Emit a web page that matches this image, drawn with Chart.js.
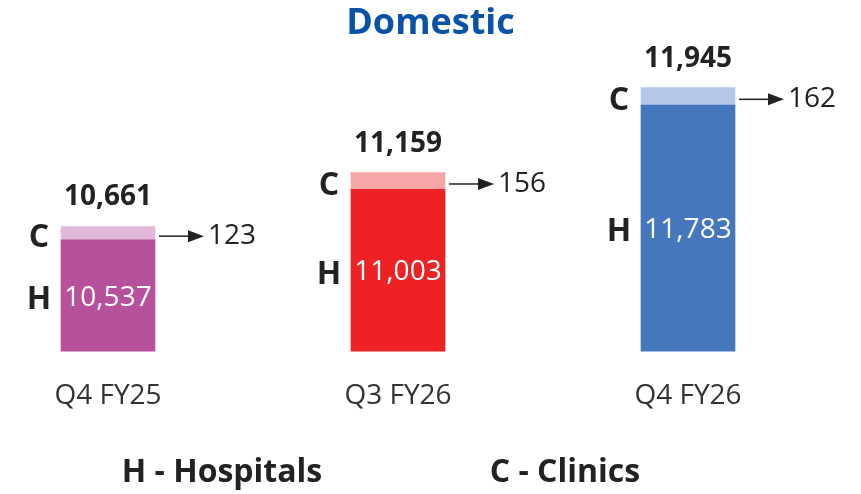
<!DOCTYPE html>
<html>
<head>
<meta charset="utf-8">
<script src="https://cdn.jsdelivr.net/npm/chart.js@4.4.1/dist/chart.umd.min.js"></script>
<style>
  body { margin: 0; background: #fff; }
  #wrap { width: 861px; height: 494px; }
</style>
</head>
<body>
<div id="wrap"><canvas id="myChart"></canvas></div>
<script>
// data
const categories = ['Q4 FY25', 'Q3 FY26', 'Q4 FY26'];
const hospitals = [10537, 11003, 11783];
const clinics = [123, 156, 162];
const totals = [10661, 11159, 11945];

const hospitalColors = ['#b7519b', '#ee2125', '#4577bd'];
const clinicColors = ['#e3b9da', '#f8a5a6', '#b2c8e6'];

const FONT = "'Open Sans', 'Noto Sans', sans-serif";
const fmt = v => v.toLocaleString('en-US');

const labelPlugin = {
  id: 'barLabels',
  afterDatasetsDraw(chart) {
    const ctx = chart.ctx;
    const area = chart.chartArea;
    const hMeta = chart.getDatasetMeta(0);
    const cMeta = chart.getDatasetMeta(1);
    ctx.save();
    ctx.textBaseline = 'middle';
    hMeta.data.forEach((hBar, i) => {
      const cBar = cMeta.data[i];
      const left = hBar.x - hBar.width / 2;
      const right = hBar.x + hBar.width / 2;
      const hMid = (hBar.y + area.bottom) / 2;
      const cMid = (cBar.y + cBar.base) / 2;

      // total on top
      ctx.fillStyle = '#222';
      ctx.textAlign = 'center';
      ctx.font = 'bold 28px ' + FONT;
      ctx.fillText(fmt(totals[i]), hBar.x, cBar.y - 29);

      // hospitals value inside bar
      ctx.fillStyle = '#fff';
      ctx.font = '28px ' + FONT;
      ctx.fillText(fmt(hospitals[i]), hBar.x, hMid + 2);

      // C / H letters
      ctx.fillStyle = '#222';
      ctx.font = 'bold 32px ' + FONT;
      ctx.fillText('C', left - 22, cMid + 5);
      ctx.fillText('H', left - 22, hMid + 4);

      // arrow to clinics value
      const ay = cMid + 3;
      const x0 = right + 4;
      const x1 = x0 + 45;
      ctx.strokeStyle = '#222';
      ctx.lineWidth = 1.5;
      ctx.beginPath();
      ctx.moveTo(x0, ay);
      ctx.lineTo(x1 - 14, ay);
      ctx.stroke();
      ctx.beginPath();
      ctx.moveTo(x1, ay);
      ctx.lineTo(x1 - 16, ay - 6);
      ctx.lineTo(x1 - 16, ay + 6);
      ctx.closePath();
      ctx.fill();

      ctx.textAlign = 'left';
      ctx.font = '28px ' + FONT;
      ctx.fillText(fmt(clinics[i]), x1 + 4, ay);
    });
    ctx.restore();
  },
  afterDraw(chart) {
    const ctx = chart.ctx;
    const w = chart.width;
    ctx.save();
    ctx.textAlign = 'center';
    ctx.textBaseline = 'middle';
    // title
    ctx.fillStyle = '#0a52a8';
    ctx.font = 'bold 36px ' + FONT;
    ctx.fillText('Domestic', w / 2, 24);
    // key
    ctx.fillStyle = '#222';
    ctx.font = 'bold 32px ' + FONT;
    ctx.fillText('H - Hospitals', 222, 473);
    ctx.fillText('C - Clinics', 565, 473);
    ctx.restore();
  }
};

const ctx = document.getElementById('myChart').getContext('2d');
new Chart(ctx, {
  type: 'bar',
  data: {
    labels: categories,
    datasets: [{
      label: 'Hospitals',
      data: hospitals,
      backgroundColor: hospitalColors,
      barThickness: 94,
      clip: { left: 60, right: 60, top: 10, bottom: 0 }
    }, {
      label: 'Clinics',
      data: clinics,
      backgroundColor: clinicColors,
      barThickness: 94,
      clip: { left: 60, right: 60, top: 10, bottom: 0 }
    }]
  },
  options: {
    responsive: true,
    maintainAspectRatio: false,
    animation: false,
    layout: {
      padding: { left: 108, right: 173, top: 60, bottom: 61 }
    },
    scales: {
      x: {
        stacked: true,
        offset: false,
        grid: { display: false },
        border: { display: false },
        ticks: {
          color: '#333',
          padding: 20,
          font: { family: FONT, size: 28 }
        }
      },
      y: {
        stacked: true,
        display: false,
        min: 9505,
        max: 12200
      }
    },
    plugins: {
      legend: { display: false },
      tooltip: { enabled: false },
      title: { display: false }
    }
  },
  plugins: [labelPlugin]
});
</script>
</body>
</html>
